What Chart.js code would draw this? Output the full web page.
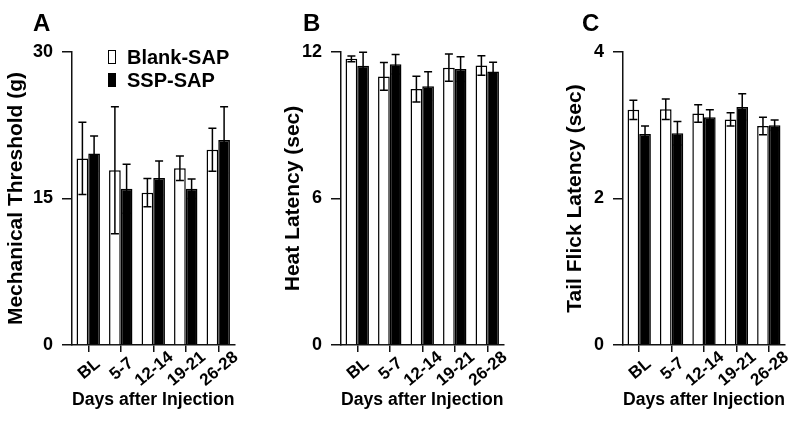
<!DOCTYPE html>
<html>
<head>
<meta charset="utf-8">
<script src="https://cdn.jsdelivr.net/npm/chart.js@4.4.1/dist/chart.umd.min.js"></script>
<style>
  body { margin: 0; background: #fff; }
  #page { position: relative; width: 800px; height: 422px; overflow: hidden;
          font-family: "Liberation Sans", Arial, sans-serif; font-weight: bold; color: #000; }
  .panel { position: absolute; top: 0; height: 422px; }
  .letter { position: absolute; top: 11px; font-size: 24px; line-height: 24px; }
  .legend { position: absolute; left: 108px; top: 47px; font-size: 20px; line-height: 20px; }
  .legend .row { position: relative; height: 23px; white-space: nowrap; }
  .legend .box { position: absolute; left: 0; top: 3px; width: 8px; height: 14px;
                 box-sizing: border-box; border: 1.5px solid #000; }
  .legend .txt { position: absolute; left: 19px; top: 0; }
</style>
</head>
<body>
<div id="page">
  <div class="panel" style="left:0;width:260px"><canvas id="chartA"></canvas></div>
  <div class="panel" style="left:270px;width:260px"><canvas id="chartB"></canvas></div>
  <div class="panel" style="left:540px;width:260px"><canvas id="chartC"></canvas></div>
  <div class="letter" style="left:33px">A</div>
  <div class="letter" style="left:303px">B</div>
  <div class="letter" style="left:582px">C</div>
  <div class="legend" id="legend"></div>
</div>
<script>
// Categories and series names
const days = ["BL", "5-7", "12-14", "19-21", "26-28"];
const seriesNames = ["Blank-SAP", "SSP-SAP"];
const seriesColors = ["#ffffff", "#000000"];

// A: mechanical threshold (g), mean and SEM
const mechBlank = [19.1, 17.9, 15.6, 18.1, 20.0];
const mechBlankErr = [3.7, 6.5, 1.45, 1.25, 2.2];
const mechSsp = [19.6, 16.0, 17.1, 16.0, 21.0];
const mechSspErr = [1.8, 2.5, 1.75, 1.0, 3.4];

// B: heat latency (sec)
const heatBlank = [11.72, 11.0, 10.48, 11.36, 11.45];
const heatBlankErr = [0.12, 0.57, 0.53, 0.56, 0.4];
const heatSsp = [11.44, 11.5, 10.6, 11.3, 11.2];
const heatSspErr = [0.55, 0.4, 0.59, 0.51, 0.38];

// C: tail flick latency (sec)
const tailBlank = [3.21, 3.22, 3.16, 3.08, 2.99];
const tailBlankErr = [0.13, 0.14, 0.12, 0.09, 0.12];
const tailSsp = [2.88, 2.89, 3.11, 3.25, 3.0];
const tailSspErr = [0.11, 0.16, 0.1, 0.18, 0.07];

// Y tick labels
const mechTicks = [0, 15, 30];
const heatTicks = [0, 6, 12];
const tailTicks = [0, 2, 4];

const FONT = "'Liberation Sans', Arial, sans-serif";
const INK = "#111";

// draws mean +/- SEM whiskers on top of each bar
const errorBars = {
  id: "errorBars",
  afterDatasetsDraw(chart) {
    const ctx = chart.ctx;
    const yScale = chart.scales.y;
    ctx.save();
    ctx.strokeStyle = "#000";
    ctx.lineWidth = 1.5;
    chart.data.datasets.forEach((ds, i) => {
      chart.getDatasetMeta(i).data.forEach((bar, j) => {
        const m = ds.data[j], e = ds.errors[j];
        const yTop = yScale.getPixelForValue(m + e);
        const yBot = yScale.getPixelForValue(m - e);
        const x = bar.x;
        ctx.beginPath();
        ctx.moveTo(x, yBot); ctx.lineTo(x, yTop);
        ctx.moveTo(x - 4, yTop); ctx.lineTo(x + 4, yTop);
        ctx.moveTo(x - 4, yBot); ctx.lineTo(x + 4, yBot);
        ctx.stroke();
      });
    });
    ctx.restore();
  }
};

// category labels turned 40 degrees and centred under each tick
const slantedLabels = {
  id: "slantedLabels",
  afterDraw(chart) {
    const ctx = chart.ctx;
    const xScale = chart.scales.x;
    ctx.save();
    ctx.fillStyle = "#000";
    ctx.font = "bold 17px " + FONT;
    ctx.textAlign = "center";
    ctx.textBaseline = "middle";
    chart.data.labels.forEach((lab, i) => {
      ctx.save();
      ctx.translate(xScale.getPixelForTick(i) + 1, xScale.top + 24);
      ctx.rotate(-40 * Math.PI / 180);
      ctx.fillText(lab, 0, 0);
      ctx.restore();
    });
    ctx.restore();
  }
};

function makePanel(id, yTitle, yMax, yTicks, blank, blankErr, ssp, sspErr, box) {
  const series = [[blank, blankErr], [ssp, sspErr]];
  new Chart(document.getElementById(id), {
    type: "bar",
    data: {
      labels: days,
      datasets: series.map((s, i) => ({
        label: seriesNames[i],
        data: s[0],
        errors: s[1],
        backgroundColor: seriesColors[i],
        borderColor: "#000",
        borderWidth: 1.5,
        categoryPercentage: 0.72,
        barPercentage: 1.0,
      })),
    },
    options: {
      responsive: true,
      maintainAspectRatio: false,
      animation: false,
      layout: { padding: { left: box.padL, right: box.padR, top: 52, bottom: 11 } },
      plugins: { legend: { display: false }, tooltip: { enabled: false } },
      scales: {
        x: {
          offset: true,
          afterFit: (s) => { s.height = 66; },
          border: { display: true, color: INK, width: 1.5 },
          grid: { offset: false, drawOnChartArea: false, tickLength: 7, color: INK, lineWidth: 1.5 },
          ticks: { display: false },
          title: {
            display: true, text: "Days after Injection", padding: 0, color: "#000",
            font: { family: FONT, size: 18, weight: "bold" },
          },
        },
        y: {
          min: 0,
          max: yMax,
          afterBuildTicks: (s) => { s.ticks = yTicks.map((v) => ({ value: v })); },
          afterFit: (s) => { s.width = box.yWidth; },
          border: { display: true, color: INK, width: 1.5 },
          grid: { drawOnChartArea: false, tickLength: 10, color: INK, lineWidth: 1.5 },
          ticks: { padding: 9, color: "#000", font: { family: FONT, size: 18, weight: "bold" } },
          title: {
            display: true, text: yTitle, padding: 0, color: "#000",
            font: { family: FONT, size: 21, weight: "bold" },
          },
        },
      },
    },
    plugins: [errorBars, slantedLabels],
  });
}

makePanel("chartA", "Mechanical Threshold (g)", 30, mechTicks,
  mechBlank, mechBlankErr, mechSsp, mechSspErr, { padL: 3.4, yWidth: 68.6, padR: 25.5 });
makePanel("chartB", "Heat Latency (sec)", 12, heatTicks,
  heatBlank, heatBlankErr, heatSsp, heatSspErr, { padL: 10.7, yWidth: 60.3, padR: 26.5 });
makePanel("chartC", "Tail Flick Latency (sec)", 4, tailTicks,
  tailBlank, tailBlankErr, tailSsp, tailSspErr, { padL: 22.4, yWidth: 60.6, padR: 15 });

// legend for panel A
const legend = document.getElementById("legend");
seriesNames.forEach((name, i) => {
  const row = document.createElement("div");
  row.className = "row";
  row.innerHTML = '<span class="box" style="background:' + seriesColors[i] + '"></span>' +
    '<span class="txt">' + name + "</span>";
  legend.appendChild(row);
});
</script>
</body>
</html>
